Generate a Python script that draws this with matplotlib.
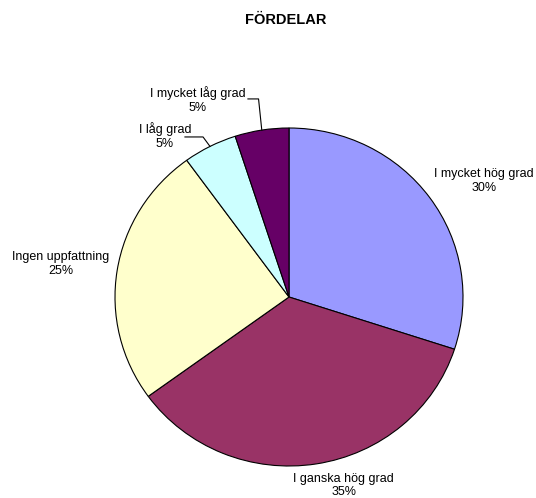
import matplotlib
matplotlib.use('Agg')
import matplotlib.pyplot as plt
import numpy as np

plt.rcParams['font.family'] = ['Liberation Sans', 'DejaVu Sans']

labels = ['I mycket hög grad', 'I ganska hög grad', 'Ingen uppfattning', 'I låg grad', 'I mycket låg grad']
values = [30, 35, 25, 5, 5]
colors = ['#9999FF', '#993366', '#FFFFCC', '#CCFFFF', '#660066']

W, H = 536, 498
fig = plt.figure(figsize=(W / 100, H / 100), dpi=100)
fig.patch.set_facecolor('white')

# pie box in pixels: left, top, right, bottom
px0, py0, px1, py1 = 115, 128, 463, 466
ax = fig.add_axes([px0 / W, 1 - py1 / H, (px1 - px0) / W, (py1 - py0) / H])

wedges, _ = ax.pie(values, colors=colors, startangle=90, counterclock=False, radius=1,
                   wedgeprops=dict(edgecolor='black', linewidth=0.8))
ax.set_aspect('auto')
ax.set_xlim(-1, 1)
ax.set_ylim(-1, 1)
ax.axis('off')

# label centres in pie axes units
text_pos = [(1.121, 0.686), (0.315, -1.115), (-1.310, 0.195), (-0.713, 0.953), (-0.523, 1.166)]

for i, w in enumerate(wedges):
    tx, ty = text_pos[i]
    ax.text(tx, ty, f'{labels[i]}\n{values[i]}%', ha='center', va='center',
            fontsize=9, linespacing=1.15, clip_on=False)

# leader lines for the two small slices
for i, (hx0, hx1, hy) in zip([3, 4], [(-0.598, -0.494, 0.947), (-0.236, -0.175, 1.172)]):
    w = wedges[i]
    ang = np.deg2rad((w.theta1 + w.theta2) / 2)
    ex, ey = np.cos(ang), np.sin(ang)
    ax.plot([hx0, hx1, ex], [hy, hy, ey], color='black', linewidth=0.8, clip_on=False)

fig.text(286 / W, 1 - 20 / H, 'FÖRDELAR', ha='center', va='center', fontsize=10.5, fontweight='bold')

fig.savefig('out.png', dpi=100)
